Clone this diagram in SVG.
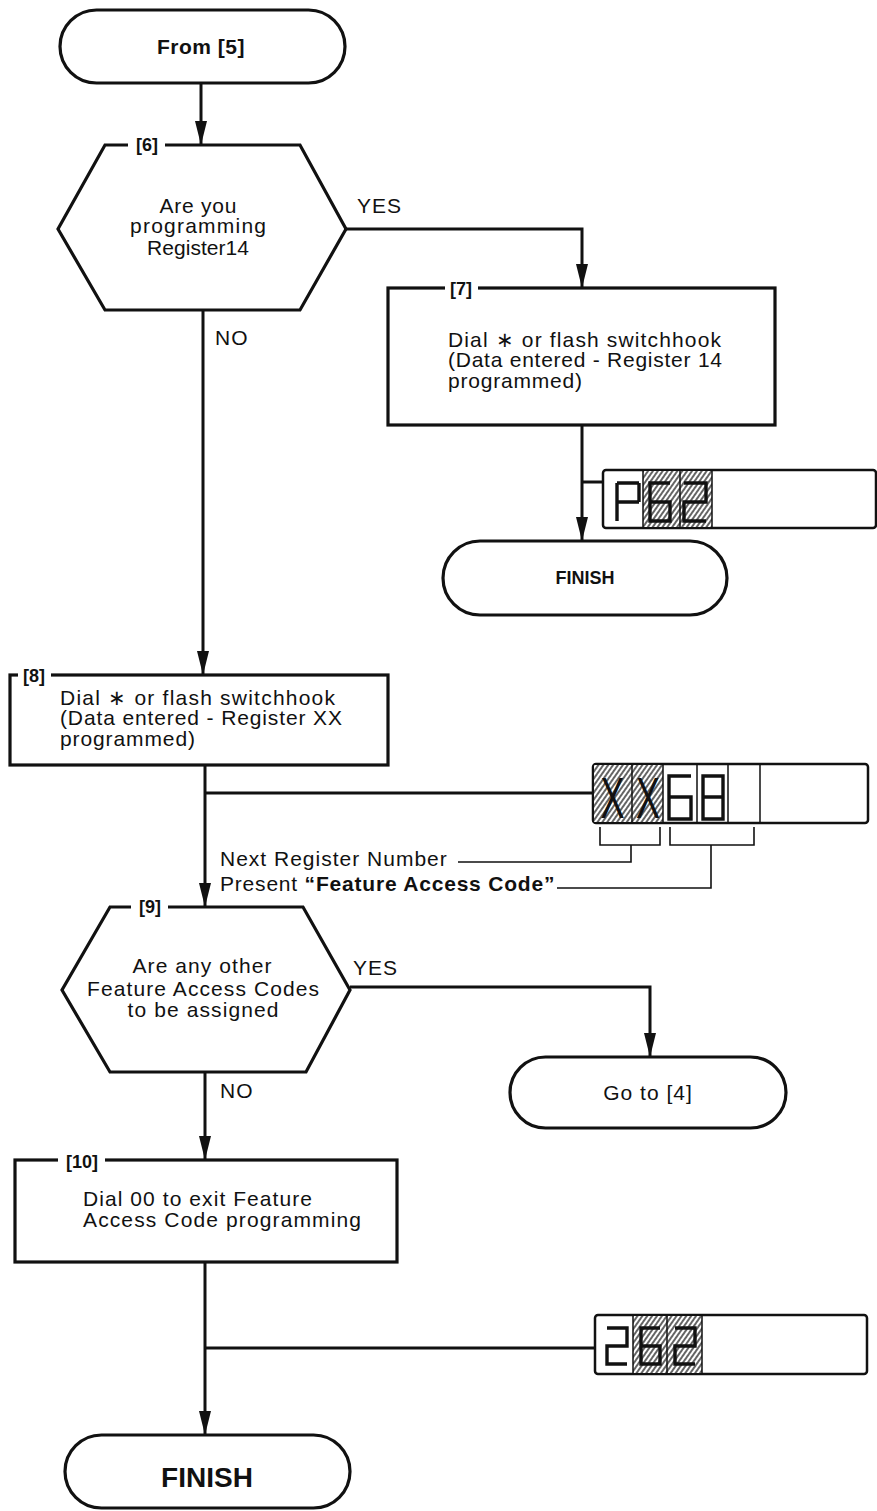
<svg xmlns="http://www.w3.org/2000/svg" width="877" height="1511" viewBox="0 0 877 1511">
<style>
.ln{stroke:#111;stroke-width:3;fill:none}
.sh{stroke:#111;stroke-width:3.2;fill:#fff}
.t{font-family:"Liberation Sans",Arial,Helvetica,sans-serif;font-size:21px;fill:#111}
.b{font-weight:bold}
.lbl{font-family:"Liberation Sans",Arial,Helvetica,sans-serif;font-size:18px;font-weight:bold;fill:#111}
.disp{fill:#fff;stroke:#111;stroke-width:2.5}
.cell{stroke:#111;stroke-width:1.5;fill:none}
.seg{stroke:#111;stroke-width:3.4;fill:none}
.br{stroke:#111;stroke-width:1.6;fill:none}
.gap{fill:#fff}
</style>
<defs>
<marker id="ah" markerUnits="userSpaceOnUse" markerWidth="24" markerHeight="12" viewBox="0 0 24 12" refX="24" refY="6" orient="auto">
<path d="M0,0 L24,6 L0,12 z" fill="#111"/>
</marker>
<pattern id="hatch" width="4" height="4" patternUnits="userSpaceOnUse" patternTransform="rotate(35)">
<rect width="4" height="4" fill="#fff"/>
<line x1="1" y1="0" x2="1" y2="4" stroke="#222" stroke-width="1.4"/>
</pattern>
</defs>
<rect width="877" height="1511" fill="#fff"/>

<g id="connectors">
<path class="ln" d="M201,83 V145" marker-end="url(#ah)"/>
<path class="ln" d="M346,229 H582 V288" marker-end="url(#ah)"/>
<path class="ln" d="M203,310 V675" marker-end="url(#ah)"/>
<path class="ln" d="M582,425 V541" marker-end="url(#ah)"/>
<path class="ln" d="M583,482 H603"/>
<path class="ln" d="M205,765 V907" marker-end="url(#ah)"/>
<path class="ln" d="M205,793 H593"/>
<path class="ln" d="M350,987 H650 V1057" marker-end="url(#ah)"/>
<path class="ln" d="M205,1072 V1160" marker-end="url(#ah)"/>
<path class="ln" d="M205,1262 V1435" marker-end="url(#ah)"/>
<path class="ln" d="M205,1348 H595"/>
<text class="t" x="357" y="213" letter-spacing="1">YES</text>
<text class="t" x="215" y="345" letter-spacing="1">NO</text>
<text class="t" x="353" y="975" letter-spacing="1">YES</text>
<text class="t" x="220" y="1098" letter-spacing="1">NO</text>
</g>

<g id="start">
<rect class="sh" x="60" y="10" width="285" height="73" rx="36.5"/>
<text class="t b" x="201" y="54" style="font-size:21px" text-anchor="middle" letter-spacing="0.5">From [5]</text>
</g>

<g id="step6">
<polygon class="sh" points="105,145 300,145 346,229 300,310 105,310 58,229"/>
<rect class="gap" x="128" y="140" width="37" height="10"/>
<text class="lbl" x="147" y="151" text-anchor="middle">[6]</text>
<text class="t" x="198" y="213" text-anchor="middle" textLength="77" lengthAdjust="spacing">Are you</text>
<text class="t" x="198" y="233" text-anchor="middle" textLength="136" lengthAdjust="spacing">programming</text>
<text class="t" x="198" y="255" text-anchor="middle" textLength="102" lengthAdjust="spacing">Register14</text>
</g>

<g id="step7">
<rect class="sh" x="388" y="288" width="387" height="137"/>
<rect class="gap" x="445" y="283" width="33" height="10"/>
<text class="lbl" x="461" y="295" text-anchor="middle">[7]</text>
<text class="t" x="448" y="347" textLength="273" lengthAdjust="spacing">Dial ∗ or flash switchhook</text>
<text class="t" x="448" y="367" textLength="274" lengthAdjust="spacing">(Data entered - Register 14</text>
<text class="t" x="448" y="388" textLength="134" lengthAdjust="spacing">programmed)</text>
</g>

<g id="display1">
<rect class="disp" x="603" y="470" width="273" height="58" rx="3"/>
<rect x="643" y="471" width="69" height="56" fill="url(#hatch)"/>
<path class="cell" d="M643,470 V528 M680,470 V528 M712,470 V528"/>
<path class="seg" d="M617,483 H639 M639,483 V502 M617,483 V521 M617,502 H639"/>
<path class="seg" d="M670,483 H650 V521 H670 V502 H650"/>
<path class="seg" d="M684,483 H706 V502 H684 V521 H706"/>
</g>

<g id="finish1">
<rect class="sh" x="443" y="541" width="284" height="74" rx="37"/>
<text class="t b" x="585" y="584" style="font-size:18px" text-anchor="middle">FINISH</text>
</g>

<g id="step8">
<rect class="sh" x="10" y="675" width="378" height="90"/>
<rect class="gap" x="18" y="670" width="33" height="10"/>
<text class="lbl" x="34" y="682" text-anchor="middle">[8]</text>
<text class="t" x="60" y="705" textLength="275" lengthAdjust="spacing">Dial ∗ or flash switchhook</text>
<text class="t" x="60" y="725" textLength="282" lengthAdjust="spacing">(Data entered - Register XX</text>
<text class="t" x="60" y="746" textLength="135" lengthAdjust="spacing">programmed)</text>
</g>

<g id="display2">
<rect class="disp" x="593" y="764" width="275" height="59" rx="3"/>
<rect x="594" y="765" width="69" height="57" fill="url(#hatch)"/>
<path class="cell" d="M632,764 V823 M663,764 V823 M697,764 V823 M728,764 V823 M760,764 V823"/>
<text class="t" x="612.5" y="818" style="font-size:58px" text-anchor="middle" textLength="24" lengthAdjust="spacingAndGlyphs">X</text>
<text class="t" x="648" y="818" style="font-size:58px" text-anchor="middle" textLength="24" lengthAdjust="spacingAndGlyphs">X</text>
<path class="seg" d="M691,776 H669 V819 H691 V797 H669"/>
<path class="seg" d="M703,776 H723 V819 H703 Z M703,797 H723"/>
<path class="br" d="M600,827 V845 H660 V827 M631,845 V862 H458"/>
<path class="br" d="M670,827 V845 H754 V827 M711,845 V888 H557"/>
<text class="t" x="220" y="866" letter-spacing="1">Next Register Number</text>
<text class="t" x="220" y="891" letter-spacing="0.8">Present <tspan class="b">“Feature Access Code”</tspan></text>
</g>

<g id="step9">
<polygon class="sh" points="110,907 303,907 350,990 306,1072 110,1072 62,990"/>
<rect class="gap" x="131" y="902" width="37" height="10"/>
<text class="lbl" x="150" y="913" text-anchor="middle">[9]</text>
<text class="t" x="202" y="973" text-anchor="middle" textLength="139" lengthAdjust="spacing">Are any other</text>
<text class="t" x="203" y="996" text-anchor="middle" textLength="232" lengthAdjust="spacing">Feature Access Codes</text>
<text class="t" x="203" y="1017" text-anchor="middle" textLength="151" lengthAdjust="spacing">to be assigned</text>
</g>

<g id="goto4">
<rect class="sh" x="510" y="1057" width="276" height="71" rx="35.5"/>
<text class="t" x="648" y="1100" text-anchor="middle" letter-spacing="1">Go to [4]</text>
</g>

<g id="step10">
<rect class="sh" x="15" y="1160" width="382" height="102"/>
<rect class="gap" x="58" y="1155" width="47" height="10"/>
<text class="lbl" x="82" y="1168" text-anchor="middle">[10]</text>
<text class="t" x="83" y="1206" textLength="229" lengthAdjust="spacing">Dial 00 to exit Feature</text>
<text class="t" x="83" y="1227" textLength="278" lengthAdjust="spacing">Access Code programming</text>
</g>

<g id="display3">
<rect class="disp" x="595" y="1315" width="272" height="59" rx="3"/>
<rect x="633" y="1316" width="69" height="57" fill="url(#hatch)"/>
<path class="cell" d="M633,1315 V1374 M667,1315 V1374 M702,1315 V1374"/>
<path class="seg" d="M607,1328 H627 V1346 H607 V1364 H627"/>
<path class="seg" d="M660,1328 H641 V1364 H660 V1346 H641"/>
<path class="seg" d="M675,1328 H695 V1346 H675 V1364 H695"/>
</g>

<g id="finish2">
<rect class="sh" x="65" y="1435" width="285" height="73" rx="36.5"/>
<text class="t b" x="207" y="1487" style="font-size:28px" text-anchor="middle">FINISH</text>
</g>
</svg>
